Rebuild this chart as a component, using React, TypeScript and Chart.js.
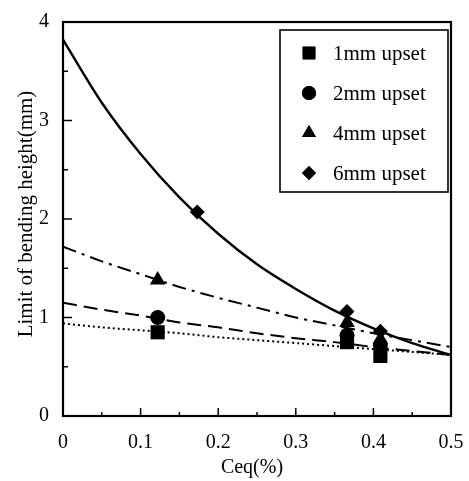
import React, { useEffect, useRef } from 'react';
import { Chart, registerables } from 'chart.js';
import { drawPoint } from 'chart.js/helpers';

Chart.register(...registerables);

// Fitted curves at x = 0, 0.05, ..., 0.5
const curveX = [0, 0.05, 0.1, 0.15, 0.2, 0.25, 0.3, 0.35, 0.4, 0.45, 0.5];
const fit6mm = [3.82, 3.18, 2.66, 2.22, 1.85, 1.54, 1.29, 1.07, 0.89, 0.74, 0.62];
const fit4mm = [1.72, 1.57, 1.44, 1.31, 1.2, 1.1, 1.0, 0.92, 0.84, 0.77, 0.7];
const fit2mm = [1.15, 1.08, 1.02, 0.95, 0.9, 0.84, 0.79, 0.75, 0.7, 0.66, 0.62];
const fit1mm = [0.94, 0.9, 0.87, 0.84, 0.8, 0.77, 0.74, 0.71, 0.68, 0.65, 0.62];

// Measured points
const ceqX = [0.122, 0.366, 0.409];
const ceq6X = [0.173, 0.366, 0.409];
const up1mm = [0.85, 0.75, 0.61];
const up2mm = [1.0, 0.82, 0.72];
const up4mm = [1.38, 0.95, 0.78];
const up6mm = [2.07, 1.06, 0.86];

const legendLabels = ['1mm upset', '2mm upset', '4mm upset', '6mm upset'];
const legendStyles = ['rect', 'circle', 'triangle', 'rectRot'];
const xTicks = [0, 0.1, 0.2, 0.3, 0.4, 0.5];
const xTickLabels = ['0', '0.1', '0.2', '0.3', '0.4', '0.5'];
const yTicks = [0, 1, 2, 3, 4];
const yTickLabels = ['0', '1', '2', '3', '4'];
const xTitle = 'Ceq(%)';
const yTitle = 'Limit of bending height(mm)';

const FONT = '"Liberation Serif", "Times New Roman", serif';

const pts = (xs: number[], ys: number[]) => xs.map((x, i) => ({ x, y: ys[i] }));

const decorPlugin = {
  id: 'decor',
  afterDraw(chart: any) {
    const { ctx, chartArea: a, scales } = chart;
    const xs = scales.x;
    const ys = scales.y;
    ctx.save();
    ctx.strokeStyle = '#000';
    ctx.fillStyle = '#000';
    ctx.lineWidth = 2.2;
    ctx.strokeRect(a.left, a.top, a.right - a.left, a.bottom - a.top);
    // y ticks (inward)
    ctx.lineWidth = 1.5;
    for (let v = 0.5; v < 4; v += 0.5) {
      const py = ys.getPixelForValue(v);
      const len = Number.isInteger(v) ? 9 : 5;
      ctx.beginPath();
      ctx.moveTo(a.left, py);
      ctx.lineTo(a.left + len, py);
      ctx.stroke();
    }
    for (let i = 1; i < 10; i++) {
      const v = i * 0.05;
      const px = xs.getPixelForValue(v);
      const len = i % 2 === 0 ? 8 : 4;
      ctx.beginPath();
      ctx.moveTo(px, a.bottom);
      ctx.lineTo(px, a.bottom - len);
      ctx.stroke();
    }
    // tick labels
    ctx.font = '20px ' + FONT;
    ctx.textAlign = 'right';
    ctx.textBaseline = 'middle';
    yTicks.forEach((v, i) => {
      ctx.fillText(yTickLabels[i], a.left - 14, ys.getPixelForValue(v));
    });
    ctx.textAlign = 'center';
    xTicks.forEach((v, i) => {
      ctx.fillText(xTickLabels[i], xs.getPixelForValue(v), a.bottom + 27);
    });
    // titles
    ctx.font = '20px ' + FONT;
    ctx.fillText(xTitle, (a.left + a.right) / 2 - 5, a.bottom + 52);
    ctx.save();
    ctx.translate(26, 214);
    ctx.rotate(-Math.PI / 2);
    ctx.font = '21px ' + FONT;
    ctx.textAlign = 'center';
    ctx.textBaseline = 'middle';
    ctx.fillText(yTitle, 0, 0);
    ctx.restore();
    // legend
    const lx = 280, ly = 30, lw = 168, lh = 162;
    ctx.fillStyle = '#fff';
    ctx.fillRect(lx, ly, lw, lh);
    ctx.lineWidth = 1.6;
    ctx.strokeStyle = '#000';
    ctx.strokeRect(lx, ly, lw, lh);
    ctx.fillStyle = '#000';
    ctx.font = '21px ' + FONT;
    ctx.textAlign = 'left';
    ctx.textBaseline = 'middle';
    const radii = [9, 7, 8, 7];
    legendLabels.forEach((lab, i) => {
      const cy = 53 + i * 40;
      drawPoint(ctx, { pointStyle: legendStyles[i], radius: radii[i], rotation: 0, borderWidth: 0 } as any, 309, cy);
      ctx.fill();
      ctx.fillText(lab, 333, cy + 1);
    });
    ctx.restore();
  },
};

export default function App() {
  const ref = useRef<HTMLCanvasElement>(null);
  useEffect(() => {
    if (!ref.current) return;
    const lineDs = (data: number[], dash: number[], width: number) => ({
      type: 'line' as const,
      data: pts(curveX, data),
      borderColor: '#000',
      borderWidth: width,
      borderDash: dash,
      pointRadius: 0,
      fill: false,
      cubicInterpolationMode: 'monotone' as const,
      order: 2,
    });
    const markDs = (xs: number[], ys: number[], style: string, r: number) => ({
      type: 'scatter' as const,
      data: pts(xs, ys),
      pointStyle: style,
      pointRadius: r,
      backgroundColor: '#000',
      borderColor: '#000',
      borderWidth: 0,
      order: 1,
    });
    const chart = new Chart(ref.current, {
      type: 'scatter',
      data: {
        datasets: [
          markDs(ceqX, up1mm, 'rect', 10),
          markDs(ceqX, up2mm, 'circle', 7.5),
          markDs(ceqX, up4mm, 'triangle', 9),
          markDs(ceq6X, up6mm, 'rectRot', 7.5),
          lineDs(fit6mm, [], 2.4),
          lineDs(fit4mm, [14, 6, 3, 6], 2),
          lineDs(fit2mm, [14, 7], 2),
          lineDs(fit1mm, [2, 3], 2),
        ] as any,
      },
      options: {
        animation: false,
        responsive: false,
        devicePixelRatio: 1,
        layout: { padding: { left: 63, top: 22, right: 18, bottom: 65 } },
        plugins: { legend: { display: false }, tooltip: { enabled: false } },
        scales: {
          x: { type: 'linear', min: 0, max: 0.5, display: false },
          y: { type: 'linear', min: 0, max: 4, display: false },
        },
      },
      plugins: [decorPlugin],
    });
    return () => chart.destroy();
  }, []);
  return (
    <div style={{ position: 'absolute', left: 0, top: 0, width: 469, height: 481, background: '#fff' }}>
      <canvas ref={ref} width={469} height={481} />
    </div>
  );
}
